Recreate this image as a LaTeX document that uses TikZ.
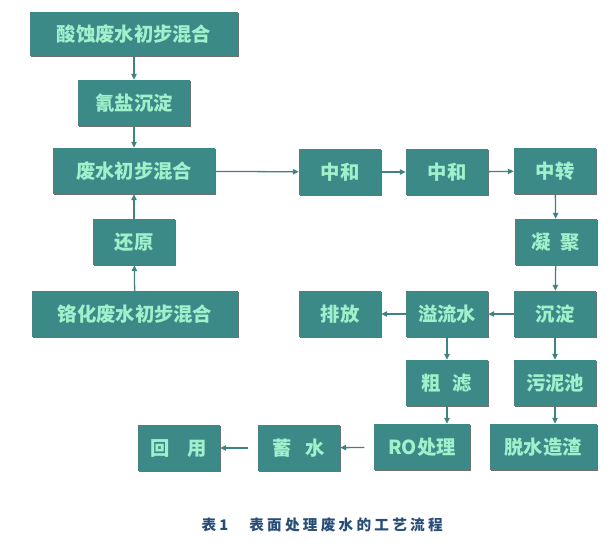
\documentclass[tikz,border=0pt]{standalone}
\usepackage{fontspec}
\newfontfamily\cjk{Noto Sans CJK SC}
\usetikzlibrary{arrows.meta,positioning,shadows}
\definecolor{verdeCaja}{RGB}{60,138,136}
\definecolor{textoCaja}{RGB}{160,240,204}
\definecolor{flechaC}{RGB}{62,130,132}
\definecolor{azulTit}{RGB}{40,78,120}
\begin{document}
\begin{tikzpicture}[
  x=0.03cm, y=-0.03cm,
  every node/.style = {align=center, font=\cjk\bfseries\fontsize{16.5}{19}\selectfont},
  proc/.style = {rectangle, fill=verdeCaja, text=textoCaja,
                 minimum width=82*0.03cm, minimum height=46*0.03cm,
                 inner sep=0pt,
                 drop shadow={shadow xshift=1.2pt, shadow yshift=-1.2pt,
                              fill=black!70, opacity=0.8}},
  arr/.style  = {-{Triangle[length=5pt,width=4.5pt]}, line width=1.1pt, color=flechaC},
  arrS/.style = {arr, shorten <=8pt},
  tit/.style  = {text=azulTit, font=\cjk\bfseries\fontsize{12.5}{15}\selectfont
                 \addfontfeature{LetterSpace=22}},
]
\useasboundingbox (0,0) rectangle (613,549);
% ── Nodos ────────────────────────────────────────────────────
\node[proc, minimum width=208*0.03cm, minimum height=44*0.03cm] (acid) at (134,34)  {酸蚀废水初步混合};
\node[proc, minimum width=112*0.03cm] (cian)  at (134,103) {氰盐沉淀};
\node[proc, minimum width=162*0.03cm] (mezcla) at (134,171) {废水初步混合};
\node[proc]                           (red)   at (134,242) {还原};
\node[proc, minimum width=206*0.03cm] (cromo) at (135,314) {铬化废水初步混合};

\node[proc] (neu1)  at (340,172) {中和};
\node[proc] (neu2)  at (447,172) {中和};
\node[proc] (trans) at (555,171) {中转};
\node[proc] (coag)  at (556,242) {凝\hspace{0.5em}聚};
\node[proc] (sed)   at (555,314) {沉淀};
\node[proc] (rebo)  at (447,314) {溢流水};
\node[proc] (desc)  at (340,314) {排放};
\node[proc] (filt)  at (447,383) {粗\hspace{0.6em}滤};
\node[proc] (lodo)  at (555,383) {污泥池};
\node[proc, minimum width=96*0.03cm]  (ro)   at (422,447) {RO处理};
\node[proc, minimum width=107*0.03cm] (desh) at (543,447) {脱水造渣};
\node[proc] (alm)   at (299,448) {蓄\hspace{0.7em}水};
\node[proc] (reuso) at (179,448) {回\hspace{0.9em}用};

% ── Flechas ──────────────────────────────────────────────────
\draw[arr] (acid)   -- (cian);
\draw[arr] (cian)   -- (mezcla);
\draw[arr] (cromo)  -- (red);
\draw[arr] (red)    -- (mezcla);
\draw[arr] (mezcla) -- (neu1);
\draw[arr] (neu1)   -- (neu2);
\draw[arr] (neu2)   -- (trans);
\draw[arr] (trans)  -- (coag);
\draw[arr] (coag)   -- (sed);
\draw[arr] (sed)    -- (rebo);
\draw[arr] (rebo)   -- (desc);
\draw[arr] (rebo)   -- (filt);
\draw[arr] (sed)    -- (lodo);
\draw[arr] (filt.south) -- (filt.south |- ro.north);
\draw[arr] (lodo.south) -- (lodo.south |- desh.north);
\draw[arrS] (ro)    -- (alm);
\draw[arrS] (alm)   -- (reuso);

% ── Título ───────────────────────────────────────────────────
\node[tit] (num) at (215,525) {表1};
\node[tit] (cap) at (346,525) {表面处理废水的工艺流程};
\end{tikzpicture}
\end{document}
